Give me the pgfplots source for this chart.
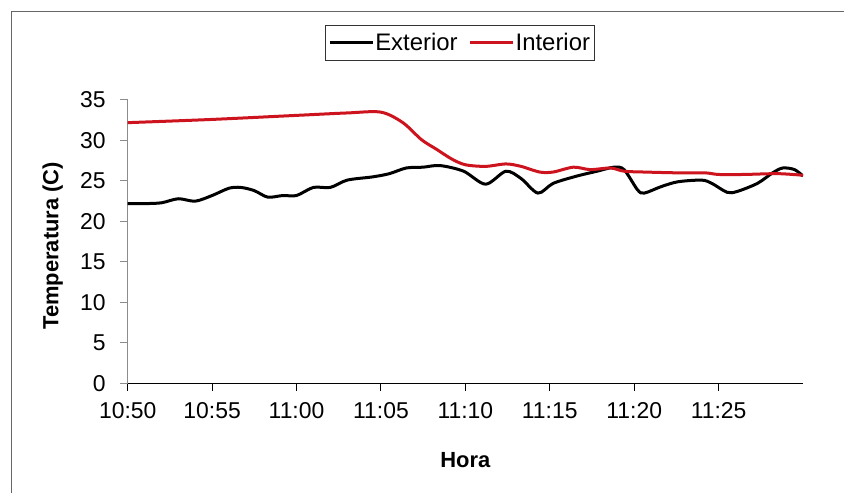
\documentclass[border=0pt]{standalone}
\usepackage{fontspec}
\setmainfont{Liberation Sans}
\usepackage{pgfplots}
\pgfplotsset{compat=1.18}
\definecolor{interior}{RGB}{205,20,30}
\begin{document}
\begin{tikzpicture}
\useasboundingbox (0,0) rectangle (844bp,493bp);
\fill[white] (0,0) rectangle (844bp,493bp);
\draw[black!60, line width=1.5bp] (11.7bp,-5bp) -- (11.7bp,481.3bp) -- (850bp,481.3bp);
\begin{axis}[
  at={(127.7bp,109.7bp)}, anchor=south west,
  scale only axis, width=675.3bp, height=283.3bp,
  xmin=0, xmax=40, ymin=0, ymax=35,
  axis x line*=bottom, axis y line*=left,
  x axis line style={black, line width=1bp},
  y axis line style={black!45, line width=1bp},
  xtick={0,5,...,35},
  xticklabels={10:50,10:55,11:00,11:05,11:10,11:15,11:20,11:25},
  ytick={0,5,...,35},
  tick align=outside, major tick length=7.5bp,
  xtick style={black, line width=1bp},
  ytick style={black!45, line width=1bp},
  /pgf/number format/assume math mode=true,
  tick label style={font=\fontsize{23}{27}\selectfont},
  xticklabel style={yshift=-8bp},
  yticklabel style={xshift=-11bp},
  xlabel={Hora}, ylabel={Temperatura (C)},
  label style={font=\fontsize{22}{26}\selectfont\bfseries},
  xlabel style={at={(axis description cs:0.5,-0.2707)}, anchor=center},
  ylabel style={at={(axis description cs:-0.111,0.485)}, anchor=center},
  legend columns=2,
  legend image code/.code={\draw[#1,line width=3bp] (0bp,0bp) -- (43bp,0bp);},
  legend style={at={(axis description cs:0.4916,1.2012)}, anchor=center,
    draw=black!80, line width=1bp, font=\fontsize{24}{28}\selectfont,
    nodes={inner xsep=1bp, inner ysep=6.5bp},
    /tikz/every even column/.append style={column sep=10bp}},
]
\addplot[black, line width=3bp, smooth] coordinates {
  (0,22.2) (1,22.2) (2,22.3) (3,22.8) (4,22.5) (5,23.2) (6,24.1) (6.7,24.2)
  (7.5,23.8) (8.3,23.0) (9.2,23.2) (10,23.2) (11,24.2) (12,24.2) (13,25.1)
  (14.5,25.5) (15.5,25.9) (16.5,26.6) (17.5,26.7) (18.5,26.9) (19.9,26.2)
  (21.2,24.6) (22.4,26.2) (23.3,25.3) (24.3,23.5) (25.2,24.7) (26.6,25.6)
  (27.8,26.2) (28.8,26.7) (29.4,26.4) (30.2,23.9) (30.6,23.5) (31.6,24.3)
  (32.6,24.9) (34.0,25.1) (34.6,24.7) (35.5,23.6) (36.1,23.7) (37.3,24.7)
  (38.2,26.0) (38.8,26.6) (39.5,26.4) (40,25.6)
};
\addlegendentry{Exterior}
\addplot[interior, line width=3bp, smooth] coordinates {
  (0,32.2) (5,32.6) (10,33.1) (13,33.4) (15,33.5) (16.3,32.2) (17.4,30.1)
  (18.3,28.9) (19.2,27.7) (20,27.0) (21.2,26.8) (22.4,27.1) (23.3,26.8)
  (24.4,26.1) (25.2,26.1) (26.4,26.7) (27.4,26.4) (28.6,26.6) (29.4,26.2)
  (30.6,26.1) (32.6,26.0) (34.2,26.0) (35,25.8) (36.5,25.8) (38.5,25.9)
  (40,25.7)
};
\addlegendentry{Interior}
\end{axis}
\end{tikzpicture}
\end{document}
